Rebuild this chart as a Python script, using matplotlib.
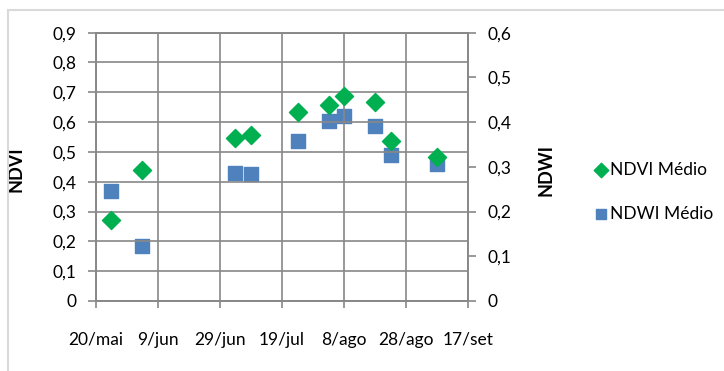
import matplotlib
matplotlib.use("Agg")
import matplotlib.pyplot as plt
from matplotlib.patches import Rectangle
from datetime import datetime

plt.rcParams['font.family'] = ['Lato', 'DejaVu Sans']

# image dates (Sentinel-2 passes) and mean index values
dates = ["2018-05-25", "2018-06-04", "2018-07-04", "2018-07-09", "2018-07-24",
         "2018-08-03", "2018-08-08", "2018-08-18", "2018-08-23", "2018-09-07"]
ndvi = [0.272, 0.441, 0.547, 0.558, 0.634, 0.656, 0.688, 0.666, 0.535, 0.482]
ndwi = [0.245, 0.124, 0.286, 0.284, 0.358, 0.402, 0.413, 0.391, 0.327, 0.306]

x_ticks = ["2018-05-20", "2018-06-09", "2018-06-29", "2018-07-19",
           "2018-08-08", "2018-08-28", "2018-09-17"]
x_labels = ["20/mai", "9/jun", "29/jun", "19/jul", "8/ago", "28/ago", "17/set"]
ndvi_ticks = [0, 0.1, 0.2, 0.3, 0.4, 0.5, 0.6, 0.7, 0.8, 0.9]
ndwi_ticks = [0, 0.1, 0.2, 0.3, 0.4, 0.5, 0.6]

GREEN = "#00B050"
BLUE = "#4F81BD"
GRID = "#888888"
FS = 12.5

to_dt = lambda s: datetime.strptime(s, "%Y-%m-%d")
xd = [to_dt(d) for d in dates]
xt = [to_dt(d) for d in x_ticks]

fig = plt.figure(figsize=(7.24, 3.71), dpi=100)
ax = fig.add_axes([0.1322, 0.1887, 0.5146, 0.7232])
ax2 = ax.twinx()

fmt = lambda v: ("%g" % v).replace(".", ",")

ax.set_xlim(xt[0], xt[-1])
ax.set_ylim(0, 0.9)
ax2.set_ylim(0, 0.6)
ax.set_xticks(xt)
ax.set_xticklabels(x_labels)
ax.set_yticks(ndvi_ticks)
ax.set_yticklabels([fmt(v) for v in ndvi_ticks])
ax2.set_yticks(ndwi_ticks)
ax2.set_yticklabels([fmt(v) for v in ndwi_ticks])

ax.grid(True, color=GRID, lw=1.2)
ax.set_axisbelow(True)
for a in (ax, ax2):
    for s in a.spines.values():
        s.set_color(GRID)
        s.set_linewidth(1.2)
ax.tick_params(axis='y', length=6, width=1.2, color=GRID, labelsize=FS, pad=8)
ax.tick_params(axis='x', length=5, width=1.2, color=GRID, labelsize=FS, pad=17)
ax2.tick_params(axis='y', length=6, width=1.2, color=GRID, labelsize=FS, pad=8)

ax.set_ylabel("NDVI", fontsize=13, fontweight='bold')
ax.yaxis.set_label_coords(-0.19, 0.49)
ax2.set_ylabel("NDWI", fontsize=13, fontweight='bold')
ax2.yaxis.set_label_coords(1.185, 0.49)

ax2.scatter(xd, ndwi, marker='s', s=95, color=BLUE, zorder=3, label="NDWI Médio")
ax.scatter(xd, ndvi, marker='D', s=85, color=GREEN, zorder=4, label="NDVI Médio")
ax2.set_zorder(ax.get_zorder() - 1)
ax.patch.set_visible(False)

h1, l1 = ax.get_legend_handles_labels()
h2, l2 = ax2.get_legend_handles_labels()
fig.legend(h1 + h2, l1 + l2, loc='center left', bbox_to_anchor=(0.81, 0.483),
           frameon=False, fontsize=12.5, handletextpad=0.1, labelspacing=1.6,
           borderaxespad=0, handlelength=0.85, markerscale=0.8)

fig.patches.append(Rectangle((8 / 724, -0.1), 1.0, 1.1 - 10 / 371,
                             transform=fig.transFigure, fill=False,
                             edgecolor="#D9D9D9", lw=1.5))

fig.savefig("out.png", dpi=100)
